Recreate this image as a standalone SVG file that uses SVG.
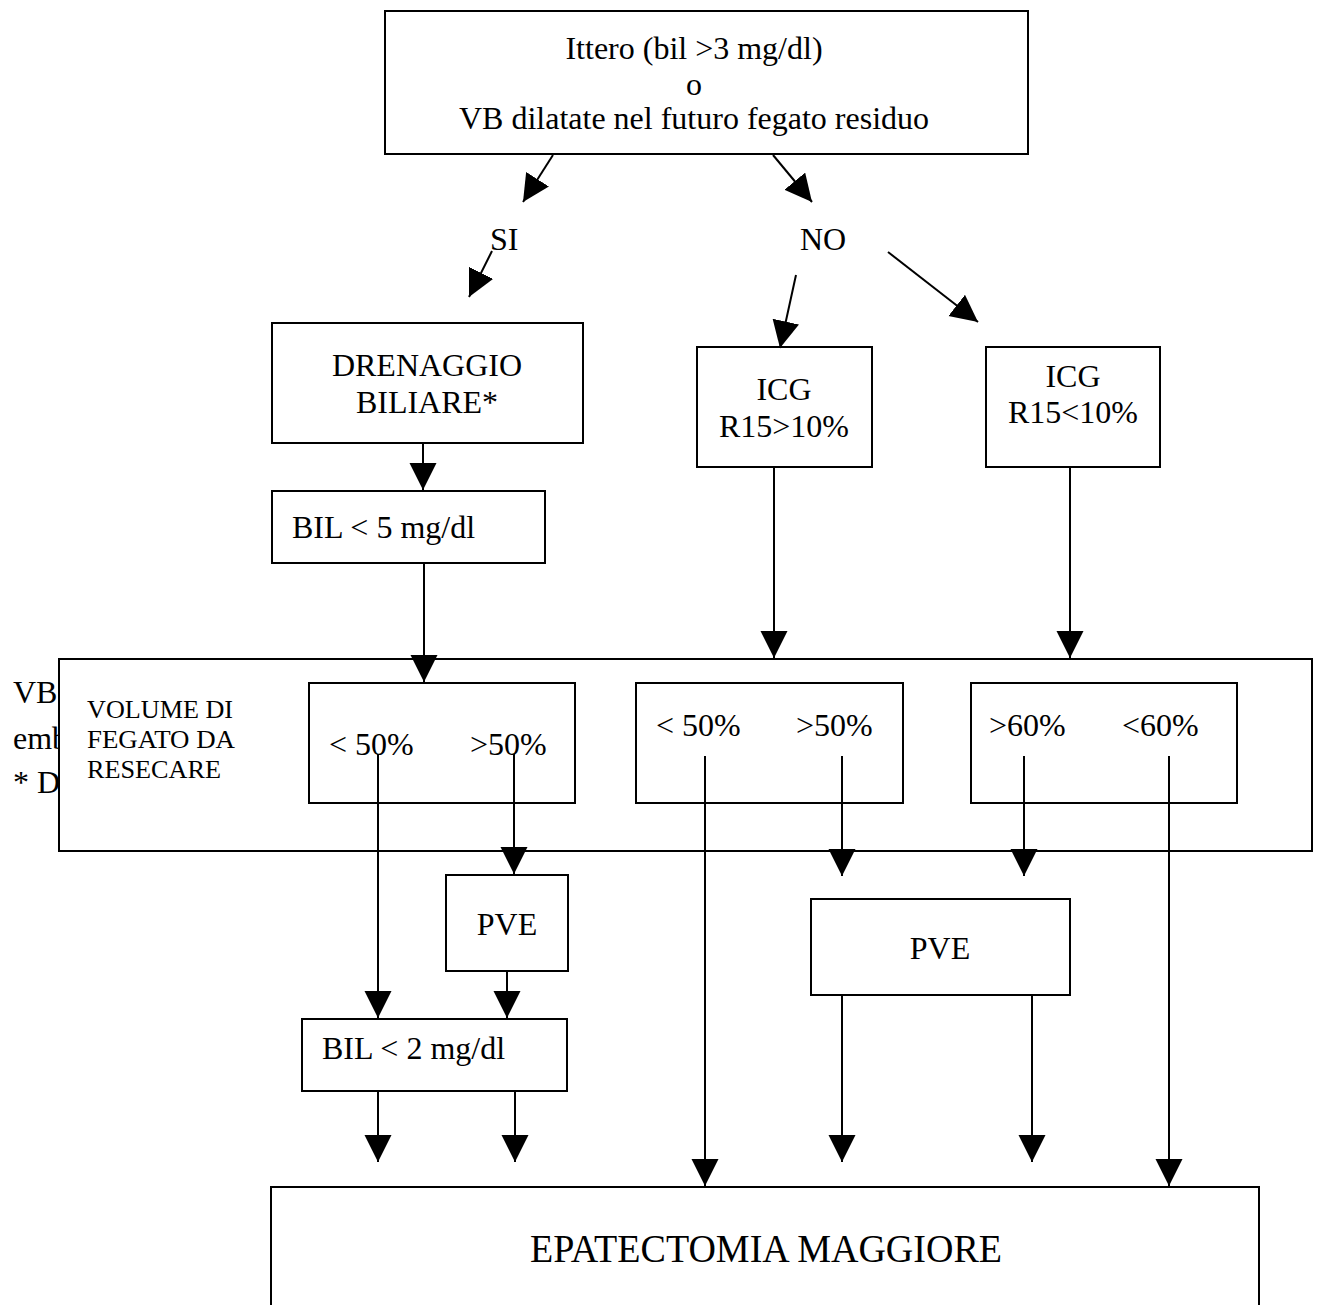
<svg xmlns="http://www.w3.org/2000/svg" width="1320" height="1305" viewBox="0 0 1320 1305">
<style>
text{font-family:"Liberation Serif","Times New Roman",serif;fill:#000;font-size:32px}
.box{fill:#fff;stroke:#000;stroke-width:2}
.small{font-size:26px}
.big{font-size:39px}
.c{text-anchor:middle}
#connectors line{stroke:#000;stroke-width:2}
</style>
<defs>
<marker id="ah" markerUnits="userSpaceOnUse" markerWidth="28" markerHeight="28" refX="27" refY="13.5" orient="auto">
<path d="M0,0 L27,13.5 L0,27 z" fill="#000"/>
</marker>
</defs>
<rect width="1320" height="1305" fill="#fff"/>
<g id="side-notes">
<text x="13" y="703">VB</text>
<text x="13" y="749">emb</text>
<text x="13" y="793">* D</text>
</g>
<g id="top">
<rect class="box" x="385" y="11" width="643" height="143"/>
<text class="c" x="694" y="59">Ittero (bil &gt;3 mg/dl)</text>
<text class="c" x="694" y="95">o</text>
<text class="c" x="694" y="129">VB dilatate nel futuro fegato residuo</text>
</g>
<g id="si"><text x="490" y="250">SI</text></g>
<g id="no"><text x="800" y="250">NO</text></g>
<g id="drenaggio">
<rect class="box" x="272" y="323" width="311" height="120"/>
<text class="c" x="427" y="376">DRENAGGIO</text>
<text class="c" x="427" y="413">BILIARE*</text>
</g>
<g id="bil5">
<rect class="box" x="272" y="491" width="273" height="72"/>
<text x="292" y="538">BIL &lt; 5 mg/dl</text>
</g>
<g id="icg-high">
<rect class="box" x="697" y="347" width="175" height="120"/>
<text class="c" x="784" y="400">ICG</text>
<text class="c" x="784" y="437">R15&gt;10%</text>
</g>
<g id="icg-low">
<rect class="box" x="986" y="347" width="174" height="120"/>
<text class="c" x="1073" y="387">ICG</text>
<text class="c" x="1073" y="423">R15&lt;10%</text>
</g>
<g id="volume">
<rect class="box" x="59" y="659" width="1253" height="192"/>
<text class="small" x="87" y="718" textLength="146" lengthAdjust="spacingAndGlyphs">VOLUME DI</text>
<text class="small" x="87" y="748" textLength="148" lengthAdjust="spacingAndGlyphs">FEGATO DA</text>
<text class="small" x="87" y="778" textLength="134" lengthAdjust="spacingAndGlyphs">RESECARE</text>
</g>
<g id="vol-a">
<rect class="box" x="309" y="683" width="266" height="120"/>
<text x="329" y="755">&lt; 50%</text>
<text x="470" y="755">&gt;50%</text>
</g>
<g id="vol-b">
<rect class="box" x="636" y="683" width="267" height="120"/>
<text x="656" y="736">&lt; 50%</text>
<text x="796" y="736">&gt;50%</text>
</g>
<g id="vol-c">
<rect class="box" x="971" y="683" width="266" height="120"/>
<text x="989" y="736">&gt;60%</text>
<text x="1122" y="736">&lt;60%</text>
</g>
<g id="pve-left">
<rect class="box" x="446" y="875" width="122" height="96"/>
<text class="c" x="507" y="935">PVE</text>
</g>
<g id="pve-right">
<rect class="box" x="811" y="899" width="259" height="96"/>
<text class="c" x="940" y="959">PVE</text>
</g>
<g id="bil2">
<rect class="box" x="302" y="1019" width="265" height="72"/>
<text x="322" y="1059">BIL &lt; 2 mg/dl</text>
</g>
<g id="epatectomia">
<rect class="box" x="271" y="1187" width="988" height="140"/>
<text class="big" x="530" y="1262" textLength="472" lengthAdjust="spacingAndGlyphs">EPATECTOMIA MAGGIORE</text>
</g>
<g id="connectors">
<line x1="553" y1="155" x2="523" y2="202" marker-end="url(#ah)"/>
<line x1="773" y1="155" x2="812" y2="202" marker-end="url(#ah)"/>
<line x1="492" y1="251" x2="469" y2="297" marker-end="url(#ah)"/>
<line x1="796" y1="275" x2="780" y2="348" marker-end="url(#ah)"/>
<line x1="888" y1="252" x2="978" y2="322" marker-end="url(#ah)"/>
<line x1="423" y1="443" x2="423" y2="490" marker-end="url(#ah)"/>
<line x1="424" y1="563" x2="424" y2="682" marker-end="url(#ah)"/>
<line x1="774" y1="467" x2="774" y2="658" marker-end="url(#ah)"/>
<line x1="1070" y1="467" x2="1070" y2="658" marker-end="url(#ah)"/>
<line x1="378" y1="754" x2="378" y2="1018" marker-end="url(#ah)"/>
<line x1="514" y1="754" x2="514" y2="874" marker-end="url(#ah)"/>
<line x1="507" y1="971" x2="507" y2="1018" marker-end="url(#ah)"/>
<line x1="378" y1="1091" x2="378" y2="1162" marker-end="url(#ah)"/>
<line x1="515" y1="1091" x2="515" y2="1162" marker-end="url(#ah)"/>
<line x1="705" y1="756" x2="705" y2="1186" marker-end="url(#ah)"/>
<line x1="842" y1="756" x2="842" y2="876" marker-end="url(#ah)"/>
<line x1="1024" y1="756" x2="1024" y2="876" marker-end="url(#ah)"/>
<line x1="1169" y1="756" x2="1169" y2="1186" marker-end="url(#ah)"/>
<line x1="842" y1="995" x2="842" y2="1162" marker-end="url(#ah)"/>
<line x1="1032" y1="995" x2="1032" y2="1162" marker-end="url(#ah)"/>
</g>
</svg>
